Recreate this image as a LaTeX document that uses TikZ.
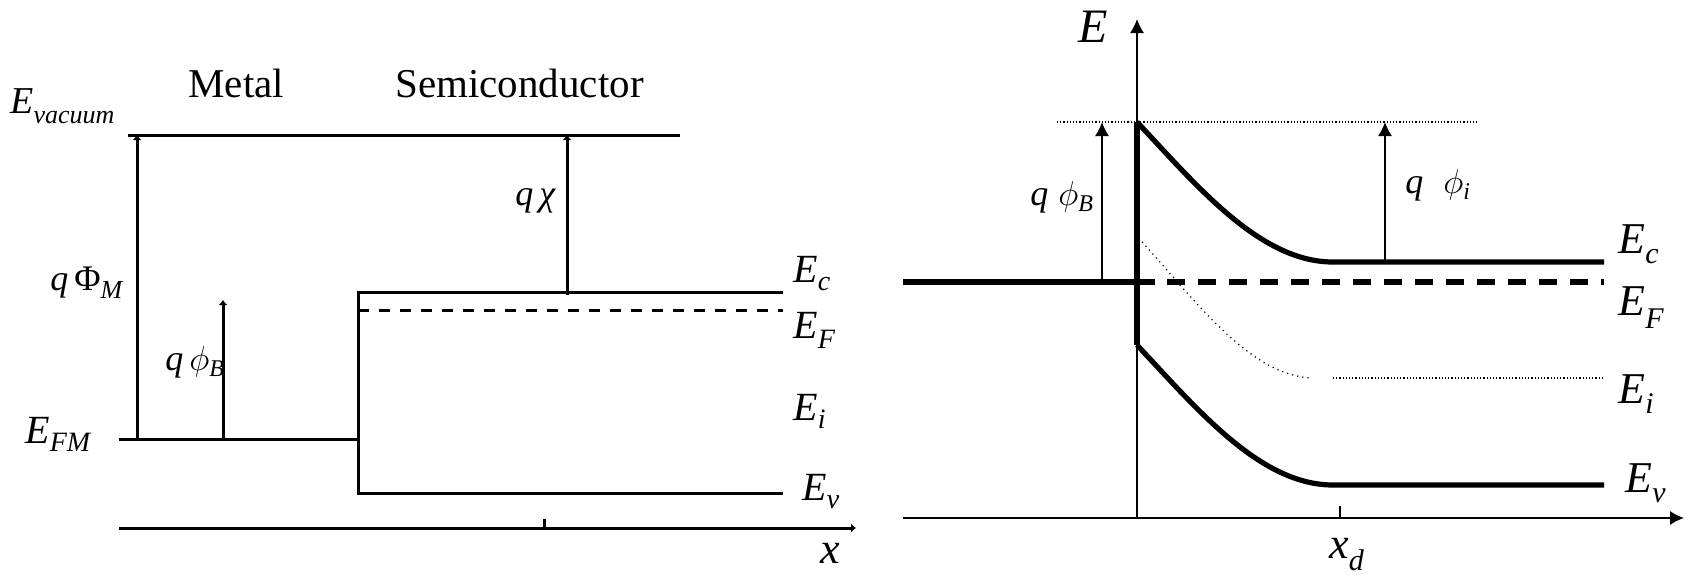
\documentclass[tikz,border=0pt]{standalone}
\usepackage{fontspec}
\setmainfont{Liberation Serif}
\usetikzlibrary{arrows.meta}
\newcommand{\fs}[1]{\fontsize{#1}{#1}\selectfont}
\newcommand{\lbl}[5]{\fs{#1}#2\raisebox{-#4}{\fs{#3}#5}}
\newcommand{\vphi}{$\phi$}
\begin{document}
\begin{tikzpicture}[x=0.5pt,y=-0.5pt,
  lline/.style={line width=1.5pt},
  larr/.style={line width=1.5pt,-{Latex[length=2.5pt,width=4.5pt]}},
  thinl/.style={line width=0.75pt},
  thickl/.style={line width=2.6pt},
  rarr/.style={line width=0.75pt,-{Latex[length=7pt,width=7pt]}},
  lab/.style={inner sep=0pt,anchor=base west},
]
\path[use as bounding box] (0,0) rectangle (1690,575);
% ---------------- left diagram ----------------
\coordinate (vacL) at (128,135); \coordinate (vacR) at (680,135);
\coordinate (fmL) at (119,439); \coordinate (fmR) at (358,439);
\coordinate (stepT) at (358,292); \coordinate (stepB) at (358,493);
\coordinate (ecR) at (783,292);
\coordinate (efL) at (358,310); \coordinate (efR) at (783,310);
\coordinate (evR) at (783,493);
\coordinate (phiMb) at (137,439); \coordinate (phiMt) at (137,135);
\coordinate (phiBb) at (223,439); \coordinate (phiBt) at (223,300);
\coordinate (chib) at (567,295); \coordinate (chit) at (567,135);
\coordinate (axL) at (119,528); \coordinate (axR) at (856,528);
\coordinate (tickb) at (544,528); \coordinate (tickt) at (544,519);

\draw[lline] (vacL) -- (vacR);
\draw[lline] (fmL) -- (fmR);
\draw[lline] (ecR) -- (stepT) -- (stepB) -- (evR);
\draw[lline,dash pattern=on 5.5pt off 5pt] (efL) -- (efR);
\draw[larr] (phiMb) -- (phiMt);
\draw[larr] (phiBb) -- (phiBt);
\draw[larr] (chib) -- (chit);
\draw[larr] (axL) -- (axR);
\draw[lline] (tickb) -- (tickt);

\node[lab] (evac) at (10,113) {\lbl{19}{\textit{E}}{13}{5pt}{\textit{vacuum}}};
\node[lab] (metal) at (188,97) {\fs{20.5}Metal};
\node[lab] (semi) at (395,97) {\fs{20.5}Semiconductor};
\node[lab] (qphim) at (50,290) {\lbl{18}{\textit{q}\,Φ}{13}{4pt}{\textit{M}}};
\node[lab] (qphib) at (165,370) {\lbl{18}{\textit{q}\,\vphi}{12}{3pt}{\textit{B}}};
\node[lab] (efm) at (25,443) {\lbl{20}{\textit{E}}{14}{4pt}{\textit{FM}}};
\node[lab] (qchi) at (515,205) {\fs{18}\textit{q}\,\textit{χ}};
\node[lab] (ecl) at (793,282) {\lbl{20}{\textit{E}}{14}{4pt}{\textit{c}}};
\node[lab] (efl) at (793,338) {\lbl{20}{\textit{E}}{14}{5pt}{\textit{F}}};
\node[lab] (eil) at (793,420) {\lbl{20}{\textit{E}}{14}{4pt}{\textit{i}}};
\node[lab] (evl) at (802,500) {\lbl{20}{\textit{E}}{14}{4pt}{\textit{v}}};
\node[lab] (xl) at (820,563) {\fs{22}\textit{x}};

% ---------------- right diagram ----------------
\coordinate (Eo) at (1137,518); \coordinate (Etop) at (1137,19);
\coordinate (xL) at (903,518); \coordinate (xR) at (1684,518);
\coordinate (xdb) at (1340,518); \coordinate (xdt) at (1340,506);
\coordinate (topL) at (1057,122); \coordinate (topR) at (1478,122);
\coordinate (mfL) at (903,282); \coordinate (mfR) at (1155,282);
\coordinate (dfL) at (1167,282); \coordinate (dfR) at (1604,282);
\coordinate (ec0) at (1137,122); \coordinate (ec1) at (1333,262); \coordinate (ec2) at (1604,262);
\coordinate (ev0) at (1137,345); \coordinate (ev1) at (1333,485); \coordinate (ev2) at (1604,485);
\coordinate (ei0) at (1142,242); \coordinate (ei1) at (1312,378);
\coordinate (ei2) at (1333,378); \coordinate (ei3) at (1603,378);
\coordinate (pBb) at (1102,282); \coordinate (pBt) at (1102,122);
\coordinate (pIb) at (1385,262); \coordinate (pIt) at (1385,122);

\draw[rarr] (Eo) -- (Etop);
\draw[rarr] (xL) -- (xR);
\draw[thinl] (xdb) -- (xdt);
\draw[line width=0.6pt,densely dotted] (topL) -- (topR);
\draw[thickl] (mfL) -- (mfR);
\draw[thickl,dash pattern=on 9pt off 6.5pt] (dfL) -- (dfR);
\draw[thickl] (ec0) -- (ev0);
\draw[thickl] (ec0) .. controls (1197,186) and (1260,262) .. (ec1) -- (ec2);
\draw[thickl] (ev0) .. controls (1197,409) and (1260,485) .. (ev1) -- (ev2);
\draw[line width=0.6pt,dotted] (ei0) .. controls (1195,300) and (1250,376) .. (ei1);
\draw[line width=0.6pt,densely dotted] (ei2) -- (ei3);
\draw[rarr] (pBb) -- (pBt);
\draw[rarr] (pIb) -- (pIt);

\node[lab] (Elab) at (1078,42) {\fs{24}\textit{E}};
\node[lab] (qpb) at (1030,205) {\lbl{18}{\textit{q}\;\vphi}{12}{3pt}{\textit{B}}};
\node[lab] (qpi) at (1405,193) {\lbl{18}{\textit{q}\;\;\vphi}{12}{3pt}{\textit{i}}};
\node[lab] (ecr) at (1618,253) {\lbl{22}{\textit{E}}{15}{5pt}{\textit{c}}};
\node[lab] (efr) at (1618,315) {\lbl{22}{\textit{E}}{15}{6.5pt}{\textit{F}}};
\node[lab] (eir) at (1618,403) {\lbl{22}{\textit{E}}{15}{5pt}{\textit{i}}};
\node[lab] (evr) at (1625,492) {\lbl{22}{\textit{E}}{15}{5pt}{\textit{v}}};
\node[lab] (xd) at (1329,558) {\lbl{22}{\textit{x}}{15}{6pt}{\textit{d}}};
\end{tikzpicture}
\end{document}
